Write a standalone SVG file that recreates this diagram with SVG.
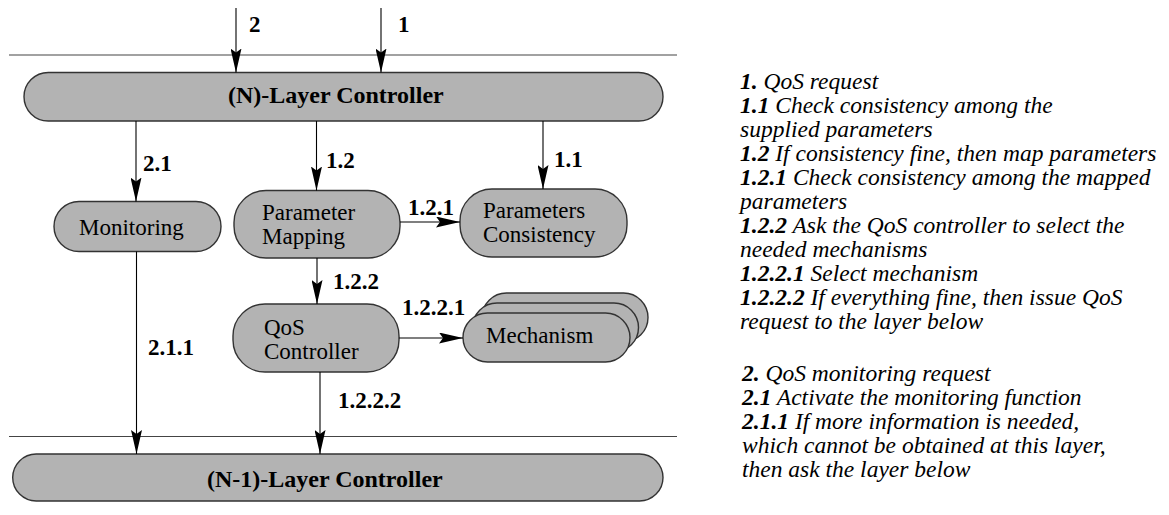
<svg xmlns="http://www.w3.org/2000/svg" width="1169" height="515" viewBox="0 0 1169 515">
<style>
.pill{fill:#b3b3b3;stroke:#333;stroke-width:1.4}
.ln{stroke:#000;stroke-width:1.1;fill:none}
.sep{stroke:#444;stroke-width:1.1}
.big{font-family:'Liberation Serif','Times New Roman',serif;font-size:24px;font-weight:bold;fill:#000}
.node{font-family:'Liberation Serif','Times New Roman',serif;font-size:23px;fill:#000}
.lab{font-family:'Liberation Serif','Times New Roman',serif;font-size:23px;font-weight:bold;fill:#000}
.desc{font-family:'Liberation Serif','Times New Roman',serif;font-size:23.5px;font-style:italic;fill:#000}
.n{font-weight:bold}
</style>
<defs>
<marker id="ah" viewBox="0 0 24 11" refX="24" refY="5.5" markerWidth="24" markerHeight="11" markerUnits="userSpaceOnUse" orient="auto">
<path d="M0,0 L24,5.5 L0,11 L4,5.5 z" fill="#000"/>
</marker>
</defs>
<g id="separators">
<line class="sep" x1="9" y1="55" x2="677" y2="55"/>
<line class="sep" x1="9" y1="436.5" x2="677" y2="436.5"/>
</g>
<g id="n-layer">
<rect class="pill" x="24" y="72.5" width="639" height="48.5" rx="24.25"/>
<text class="big" x="228" y="103">(N)-Layer Controller</text>
</g>
<g id="monitoring">
<rect class="pill" x="54" y="201.5" width="167" height="50" rx="25"/>
<text class="node" x="79" y="235">Monitoring</text>
</g>
<g id="parameter-mapping">
<rect class="pill" x="234" y="190.5" width="166" height="67.5" rx="32"/>
<text class="node" x="262" y="219.5">Parameter</text>
<text class="node" x="262" y="243.5">Mapping</text>
</g>
<g id="parameters-consistency">
<rect class="pill" x="460" y="189" width="167" height="68" rx="32"/>
<text class="node" x="483" y="218">Parameters</text>
<text class="node" x="483" y="242">Consistency</text>
</g>
<g id="qos-controller">
<rect class="pill" x="233" y="304" width="166" height="68" rx="32"/>
<text class="node" x="264" y="334.5">QoS</text>
<text class="node" x="264" y="358.5">Controller</text>
</g>
<g id="mechanism">
<rect class="pill" x="482" y="293" width="166" height="49" rx="24.5"/>
<rect class="pill" x="472.5" y="303" width="166" height="49" rx="24.5"/>
<rect class="pill" x="463" y="313" width="167" height="49" rx="24.5"/>
<text class="node" x="486" y="343">Mechanism</text>
</g>
<g id="n1-layer">
<rect class="pill" x="12.7" y="454" width="650.3" height="47" rx="23.5"/>
<text class="big" x="207" y="486.5">(N-1)-Layer Controller</text>
</g>
<g id="connectors">
<line class="ln" x1="236" y1="8" x2="236" y2="72.5" marker-end="url(#ah)"/>
<line class="ln" x1="381" y1="8" x2="381" y2="72.5" marker-end="url(#ah)"/>
<line class="ln" x1="136" y1="121" x2="136" y2="201.5" marker-end="url(#ah)"/>
<line class="ln" x1="316.5" y1="121" x2="316.5" y2="190.5" marker-end="url(#ah)"/>
<line class="ln" x1="543" y1="121" x2="543" y2="189" marker-end="url(#ah)"/>
<line class="ln" x1="400" y1="222" x2="460" y2="222" marker-end="url(#ah)"/>
<line class="ln" x1="317" y1="258" x2="317" y2="304" marker-end="url(#ah)"/>
<line class="ln" x1="399" y1="338" x2="463" y2="338" marker-end="url(#ah)"/>
<line class="ln" x1="136.5" y1="251.5" x2="136.5" y2="454" marker-end="url(#ah)"/>
<line class="ln" x1="320" y1="372" x2="320" y2="454" marker-end="url(#ah)"/>
<text class="lab" x="249" y="32">2</text>
<text class="lab" x="398" y="32">1</text>
<text class="lab" x="143" y="171">2.1</text>
<text class="lab" x="326" y="168">1.2</text>
<text class="lab" x="554" y="167">1.1</text>
<text class="lab" x="408" y="215">1.2.1</text>
<text class="lab" x="333" y="289">1.2.2</text>
<text class="lab" x="402" y="315">1.2.2.1</text>
<text class="lab" x="148" y="355">2.1.1</text>
<text class="lab" x="338" y="408">1.2.2.2</text>
</g>
<g id="legend">
<text class="desc" x="740" y="89"><tspan class="n">1.</tspan> QoS request</text>
<text class="desc" x="740" y="113"><tspan class="n">1.1</tspan> Check consistency among the</text>
<text class="desc" x="740" y="137">supplied parameters</text>
<text class="desc" x="740" y="161"><tspan class="n">1.2</tspan> If consistency fine, then map parameters</text>
<text class="desc" x="740" y="185"><tspan class="n">1.2.1</tspan> Check consistency among the mapped</text>
<text class="desc" x="740" y="209">parameters</text>
<text class="desc" x="740" y="233"><tspan class="n">1.2.2</tspan> Ask the QoS controller to select the</text>
<text class="desc" x="740" y="257">needed mechanisms</text>
<text class="desc" x="740" y="281"><tspan class="n">1.2.2.1</tspan> Select mechanism</text>
<text class="desc" x="740" y="305"><tspan class="n">1.2.2.2</tspan> If everything fine, then issue QoS</text>
<text class="desc" x="740" y="329">request to the layer below</text>
<text class="desc" x="742" y="381"><tspan class="n">2.</tspan> QoS monitoring request</text>
<text class="desc" x="742" y="405"><tspan class="n">2.1</tspan> Activate the monitoring function</text>
<text class="desc" x="742" y="429"><tspan class="n">2.1.1</tspan> If more information is needed,</text>
<text class="desc" x="742" y="453">which cannot be obtained at this layer,</text>
<text class="desc" x="742" y="477">then ask the layer below</text>
</g>
</svg>
